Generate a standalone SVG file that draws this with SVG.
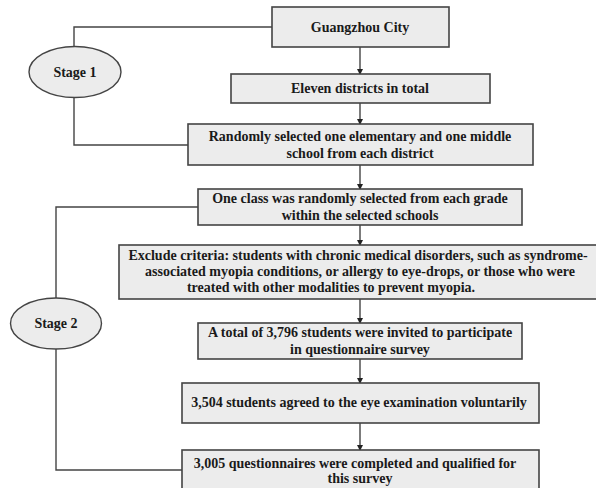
<svg xmlns="http://www.w3.org/2000/svg" width="596" height="488" viewBox="0 0 596 488">
<style>
.box{fill:#ececec;stroke:#444;stroke-width:1.6}
.ell{fill:#ececec;stroke:#444;stroke-width:1.4}
.t{font-family:"Liberation Serif","Times New Roman",serif;font-weight:bold;font-size:14px;fill:#1a1a1a;text-anchor:middle}
.ln{fill:none;stroke:#444;stroke-width:1.4}
</style>
<defs>
<marker id="ah" markerWidth="6" markerHeight="6" refX="5" refY="3" orient="auto" markerUnits="userSpaceOnUse">
<path d="M0,0 L6,3 L0,6 z" fill="#222"/>
</marker>
</defs>
<rect width="596" height="488" fill="#fff"/>
<g id="connectors">
<path class="ln" d="M272,27 H74 V47 M74,98 V145 H188"/>
<path class="ln" d="M198,207 H56 V298 M56,349 V470 H182"/>
<line class="ln" x1="360" y1="47" x2="360" y2="74" marker-end="url(#ah)"/>
<line class="ln" x1="360" y1="103" x2="360" y2="124" marker-end="url(#ah)"/>
<line class="ln" x1="360" y1="165" x2="360" y2="189" marker-end="url(#ah)"/>
<line class="ln" x1="360" y1="225" x2="360" y2="245" marker-end="url(#ah)"/>
<line class="ln" x1="360" y1="299" x2="360" y2="323" marker-end="url(#ah)"/>
<line class="ln" x1="360" y1="359" x2="360" y2="383" marker-end="url(#ah)"/>
<line class="ln" x1="360" y1="423" x2="360" y2="450" marker-end="url(#ah)"/>
</g>
<g id="stage1">
<ellipse class="ell" cx="75" cy="72" rx="46" ry="25.5"/>
<text class="t" x="75" y="77">Stage 1</text>
</g>
<g id="stage2">
<ellipse class="ell" cx="56" cy="323.5" rx="45.5" ry="25.5"/>
<text class="t" x="56" y="328">Stage 2</text>
</g>
<g id="n1">
<rect class="box" x="272" y="7" width="177" height="40"/>
<text class="t" x="360" y="32">Guangzhou City</text>
</g>
<g id="n2">
<rect class="box" x="231" y="74" width="259" height="29"/>
<text class="t" x="360" y="93">Eleven districts in total</text>
</g>
<g id="n3">
<rect class="box" x="188" y="124" width="345" height="41"/>
<text class="t" x="360" y="141">Randomly selected one elementary and one middle</text>
<text class="t" x="360" y="158">school from each district</text>
</g>
<g id="n4">
<rect class="box" x="198" y="189" width="324" height="36"/>
<text class="t" x="360" y="203">One class was randomly selected from each grade</text>
<text class="t" x="360" y="220">within the selected schools</text>
</g>
<g id="n5">
<rect class="box" x="119" y="245" width="484" height="54"/>
<text class="t" x="358" y="260">Exclude criteria: students with chronic medical disorders, such as syndrome-</text>
<text class="t" x="360" y="276">associated myopia conditions, or allergy to eye-drops, or those who were</text>
<text class="t" x="331" y="292">treated with other modalities to prevent myopia.</text>
</g>
<g id="n6">
<rect class="box" x="198" y="323" width="324" height="36"/>
<text class="t" x="360" y="337">A total of 3,796 students were invited to participate</text>
<text class="t" x="360" y="354">in questionnaire survey</text>
</g>
<g id="n7">
<rect class="box" x="182" y="383" width="357" height="40"/>
<text class="t" x="359" y="407">3,504 students agreed to the eye examination voluntarily</text>
</g>
<g id="n8">
<rect class="box" x="182" y="450" width="357" height="45"/>
<text class="t" x="355" y="468">3,005 questionnaires were completed and qualified for</text>
<text class="t" x="360" y="483">this survey</text>
</g>
</svg>
